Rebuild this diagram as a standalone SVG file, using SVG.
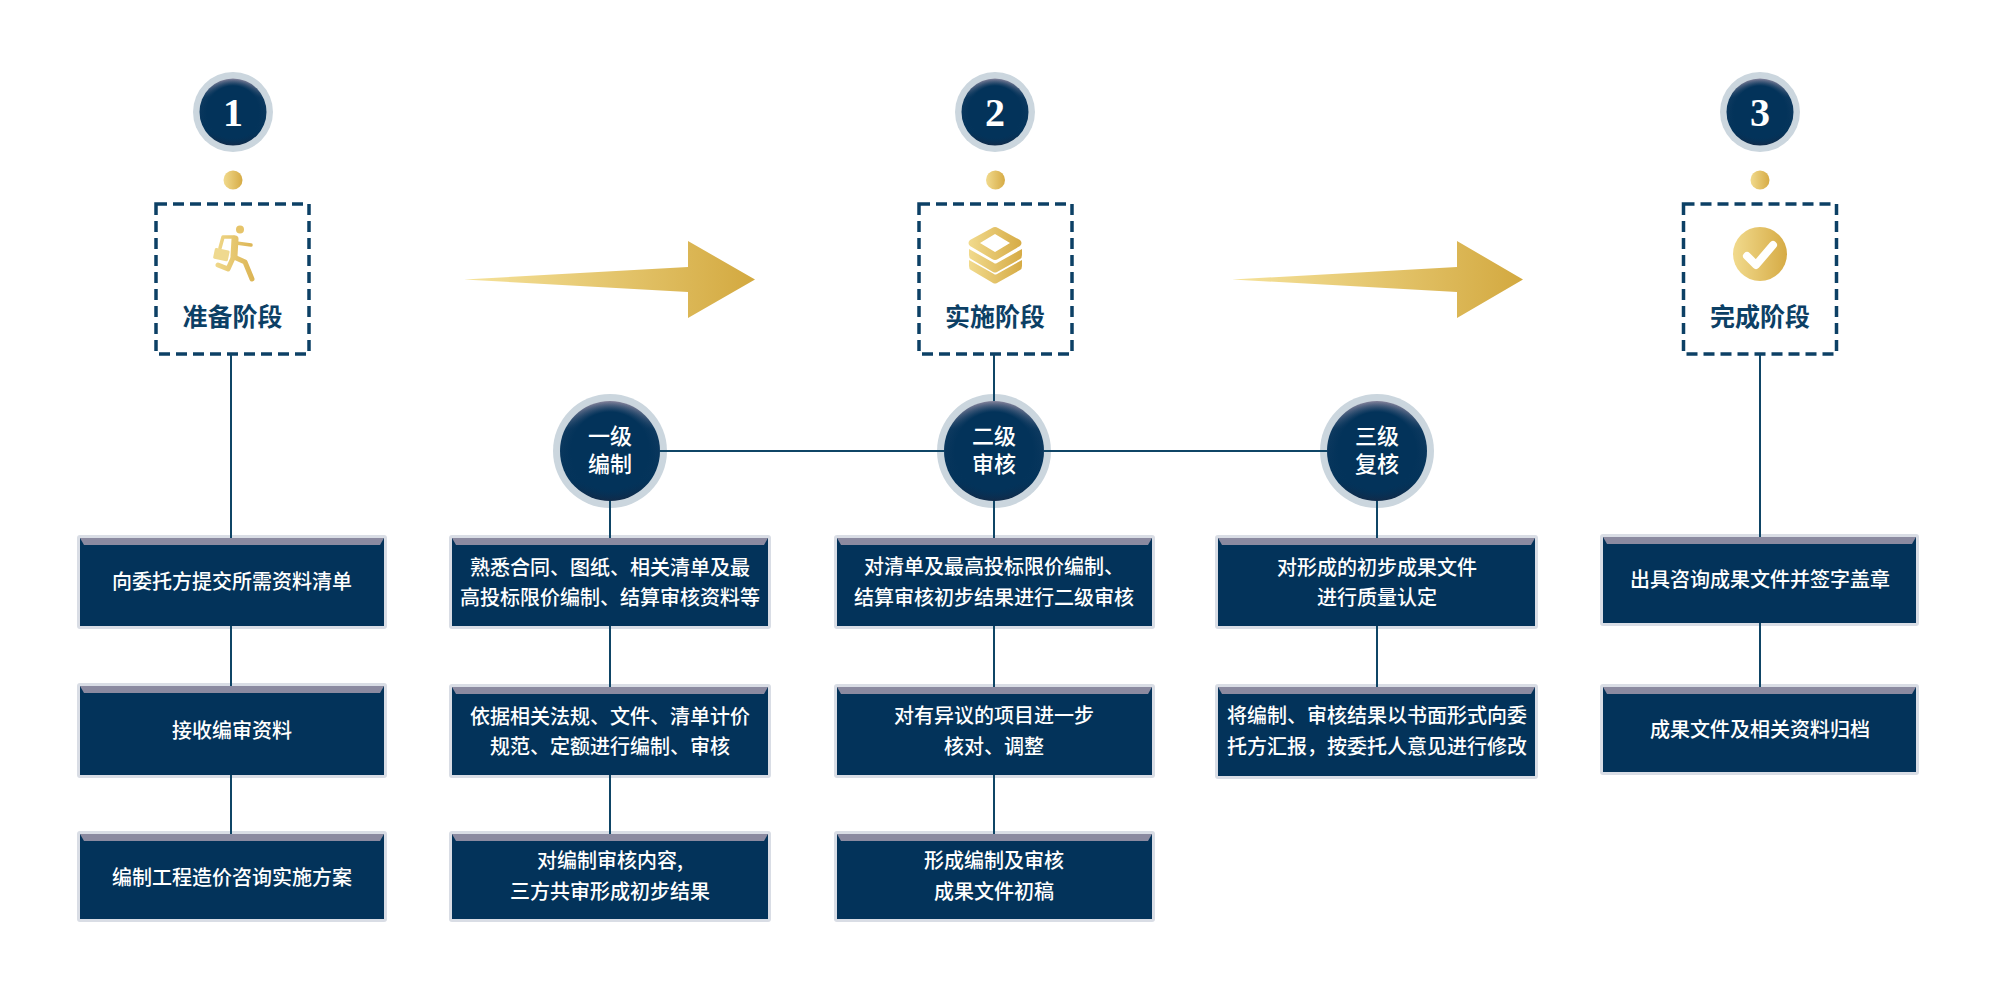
<svg xmlns="http://www.w3.org/2000/svg" width="2000" height="986" viewBox="0 0 2000 986">
<style>
text{font-family:"Noto Sans CJK SC","Liberation Serif",serif;text-anchor:middle}
.t{font-size:20px;fill:#fff;font-weight:500}
.p{font-size:25px;fill:#0c4065;font-weight:700}
.c{font-size:22px;fill:#fff;font-weight:500}
.n{font-size:40px;fill:#fff;font-family:"Liberation Serif",serif;font-weight:700}
.dash{fill:#fff;stroke:#0c4065;stroke-width:3.500;stroke-dasharray:11 6}
.l{stroke:#0f4566;stroke-width:2;fill:none}
.ring{fill:#cbd6de}
.o{fill:#d9dde5}
.b{fill:#03335a}
.h{fill:#8b8aa0}
.g{fill:url(#gold)}
.base{fill:url(#ballv)}
.core{fill:url(#ball)}
.run{fill:none;stroke:url(#goldu);stroke-linecap:round;stroke-linejoin:round}
</style>
<defs>
<linearGradient id="gold" x1="0" y1="0" x2="1" y2="0"><stop offset="0" stop-color="#f1da8d"/><stop offset="1" stop-color="#d6ab45"/></linearGradient>
<linearGradient id="goldu" gradientUnits="userSpaceOnUse" x1="213" y1="0" x2="253" y2="0"><stop offset="0" stop-color="#f1da8d"/><stop offset="1" stop-color="#dcb555"/></linearGradient>
<linearGradient id="arrowg" x1="0" y1="0" x2="1" y2="0"><stop offset="0" stop-color="#f6e39c"/><stop offset="1" stop-color="#d3a940"/></linearGradient>
<radialGradient id="ball" cx="0.5" cy="0.5" r="0.5"><stop offset="0" stop-color="#03335a"/><stop offset="0.78" stop-color="#03335a"/><stop offset="1" stop-color="#03335a" stop-opacity="0"/></radialGradient>
<linearGradient id="ballv" x1="0" y1="0" x2="0" y2="1"><stop offset="0" stop-color="#86849c"/><stop offset="0.28" stop-color="#0f3a60"/><stop offset="0.8" stop-color="#03335a"/><stop offset="1" stop-color="#112a48"/></linearGradient>
</defs>
<rect width="2000" height="986" fill="#fff"/>

<g id="arrow-1"><path fill="url(#arrowg)" d="M464 279.500L688 267V241L755 279.500L688 318V292Z"/></g>
<g id="arrow-2"><path fill="url(#arrowg)" d="M1232 279.500L1457 267V241L1523 279.500L1457 318V292Z"/></g>

<g id="stage-1">
<circle class="ring" cx="233" cy="112" r="40"/><circle class="base" cx="233" cy="112" r="33.500"/><circle class="core" cx="233" cy="112" r="33.500"/>
<text class="n" x="233" y="126">1</text>
<circle class="g" cx="233" cy="180" r="9.500"/>
<rect class="dash" x="156" y="204" width="153" height="150"/>
<circle cx="240" cy="229.500" r="4" fill="#e6c46a"/>
<path class="run" stroke-width="7" d="M235 239L234 256"/>
<path class="run" stroke-width="3.500" d="M236 243L251 245M234 237H223L220 248"/>
<path class="run" stroke-width="5" d="M234 257L245 262L252 279M233 258L228 269L218 265"/>
<rect x="214" y="249" width="15" height="11" rx="1.500" transform="rotate(12 221 254)" fill="#efd98f"/>
<text class="p" x="232.500" y="326">准备阶段</text>
</g>
<g id="stage-2">
<circle class="ring" cx="995" cy="112" r="40"/><circle class="base" cx="995" cy="112" r="33.500"/><circle class="core" cx="995" cy="112" r="33.500"/>
<text class="n" x="995" y="126">2</text>
<circle class="g" cx="995.500" cy="180" r="9.500"/>
<rect class="dash" x="919" y="204" width="153" height="150"/>
<path class="g" fill-rule="evenodd" d="M992 228q3-2 6 0l22 12q3 3 0 6l-22 13q-3 2-6 0l-22-13q-3-3 0-6zM995 234l-15 9 15 9 15-9z"/>
<path class="g" d="M969 249l25 14q1 1 3 0l25-14v6q0 3-2 4l-23 13q-2 1-4 0l-22-13q-2-1-2-4z"/>
<path class="g" d="M969 260l25 14q1 1 3 0l25-14v6q0 3-2 4l-23 13q-2 1-4 0l-22-13q-2-1-2-4z"/>
<text class="p" x="995" y="326">实施阶段</text>
</g>
<g id="stage-3">
<circle class="ring" cx="1760" cy="112" r="40"/><circle class="base" cx="1760" cy="112" r="33.500"/><circle class="core" cx="1760" cy="112" r="33.500"/>
<text class="n" x="1760" y="126">3</text>
<circle class="g" cx="1760" cy="180" r="9.500"/>
<rect class="dash" x="1683.500" y="204" width="153" height="150"/>
<circle class="g" cx="1760" cy="254" r="27"/>
<path d="M1747 256l9 9 17-20" fill="none" stroke="#fff" stroke-width="8" stroke-linecap="round" stroke-linejoin="round"/>
<text class="p" x="1760" y="326">完成阶段</text>
</g>

<g id="level-1"><circle class="ring" cx="610" cy="451" r="57"/><circle class="base" cx="610" cy="451" r="50"/><circle class="core" cx="610" cy="451" r="50"/><text class="c" x="610" y="444">一级</text><text class="c" x="610" y="472">编制</text></g>
<g id="level-2"><circle class="ring" cx="994" cy="451" r="57"/><circle class="base" cx="994" cy="451" r="50"/><circle class="core" cx="994" cy="451" r="50"/><text class="c" x="994" y="444">二级</text><text class="c" x="994" y="472">审核</text></g>
<g id="level-3"><circle class="ring" cx="1377" cy="451" r="57"/><circle class="base" cx="1377" cy="451" r="50"/><circle class="core" cx="1377" cy="451" r="50"/><text class="c" x="1377" y="444">三级</text><text class="c" x="1377" y="472">复核</text></g>

<g id="a1"><rect class="o" x="77" y="535" width="310" height="94" rx="3"/><rect class="b" x="80" y="538" width="304" height="88"/><path class="h" d="M80 538H384L380 545H84Z"/><text class="t" x="232" y="589">向委托方提交所需资料清单</text></g>
<g id="a2"><rect class="o" x="77" y="683" width="310" height="95" rx="3"/><rect class="b" x="80" y="686" width="304" height="89"/><path class="h" d="M80 686H384L380 693H84Z"/><text class="t" x="232" y="738">接收编审资料</text></g>
<g id="a3"><rect class="o" x="77" y="831" width="310" height="91" rx="3"/><rect class="b" x="80" y="834" width="304" height="85"/><path class="h" d="M80 834H384L380 841H84Z"/><text class="t" x="232" y="885">编制工程造价咨询实施方案</text></g>

<g id="b1"><rect class="o" x="449" y="535" width="322" height="94" rx="3"/><rect class="b" x="452" y="538" width="316" height="88"/><path class="h" d="M452 538H768L764 545H456Z"/><text class="t" x="610" y="575">熟悉合同、图纸、相关清单及最</text><text class="t" x="610" y="605">高投标限价编制、结算审核资料等</text></g>
<g id="b2"><rect class="o" x="449" y="684" width="322" height="94" rx="3"/><rect class="b" x="452" y="687" width="316" height="88"/><path class="h" d="M452 687H768L764 694H456Z"/><text class="t" x="610" y="724">依据相关法规、文件、清单计价</text><text class="t" x="610" y="754">规范、定额进行编制、审核</text></g>
<g id="b3"><rect class="o" x="449" y="831" width="322" height="91" rx="3"/><rect class="b" x="452" y="834" width="316" height="85"/><path class="h" d="M452 834H768L764 841H456Z"/><text class="t" x="610" y="868">对编制审核内容,</text><text class="t" x="610" y="899">三方共审形成初步结果</text></g>

<g id="c1"><rect class="o" x="834" y="535" width="321" height="94" rx="3"/><rect class="b" x="837" y="538" width="315" height="88"/><path class="h" d="M837 538H1152L1148 545H841Z"/><text class="t" x="994" y="574">对清单及最高投标限价编制、</text><text class="t" x="994" y="605">结算审核初步结果进行二级审核</text></g>
<g id="c2"><rect class="o" x="834" y="684" width="321" height="94" rx="3"/><rect class="b" x="837" y="687" width="315" height="88"/><path class="h" d="M837 687H1152L1148 694H841Z"/><text class="t" x="994" y="723">对有异议的项目进一步</text><text class="t" x="994" y="754">核对、调整</text></g>
<g id="c3"><rect class="o" x="834" y="831" width="321" height="91" rx="3"/><rect class="b" x="837" y="834" width="315" height="85"/><path class="h" d="M837 834H1152L1148 841H841Z"/><text class="t" x="994" y="868">形成编制及审核</text><text class="t" x="994" y="899">成果文件初稿</text></g>

<g id="d1"><rect class="o" x="1215" y="535" width="323" height="94" rx="3"/><rect class="b" x="1218" y="538" width="317" height="88"/><path class="h" d="M1218 538H1535L1531 545H1222Z"/><text class="t" x="1377" y="575">对形成的初步成果文件</text><text class="t" x="1377" y="605">进行质量认定</text></g>
<g id="d2"><rect class="o" x="1215" y="684" width="323" height="95" rx="3"/><rect class="b" x="1218" y="687" width="317" height="89"/><path class="h" d="M1218 687H1535L1531 694H1222Z"/><text class="t" x="1377" y="723">将编制、审核结果以书面形式向委</text><text class="t" x="1377" y="754">托方汇报，按委托人意见进行修改</text></g>

<g id="e1"><rect class="o" x="1600" y="534" width="319" height="92" rx="3"/><rect class="b" x="1603" y="537" width="313" height="86"/><path class="h" d="M1603 537H1916L1912 544H1607Z"/><text class="t" x="1760" y="587">出具咨询成果文件并签字盖章</text></g>
<g id="e2"><rect class="o" x="1600" y="684" width="319" height="91" rx="3"/><rect class="b" x="1603" y="687" width="313" height="85"/><path class="h" d="M1603 687H1916L1912 694H1607Z"/><text class="t" x="1760" y="737">成果文件及相关资料归档</text></g>

<g id="connectors">
<path class="l" d="M231 354V538M231 626V686M231 775V834M610 501V538M610 626V687M610 775V834M994 354V401M994 501V538M994 626V687M994 775V834M1377 501V538M1377 626V687M1760 354V537M1760 623V687M660 451H944M1044 451H1327"/>
</g>
</svg>
